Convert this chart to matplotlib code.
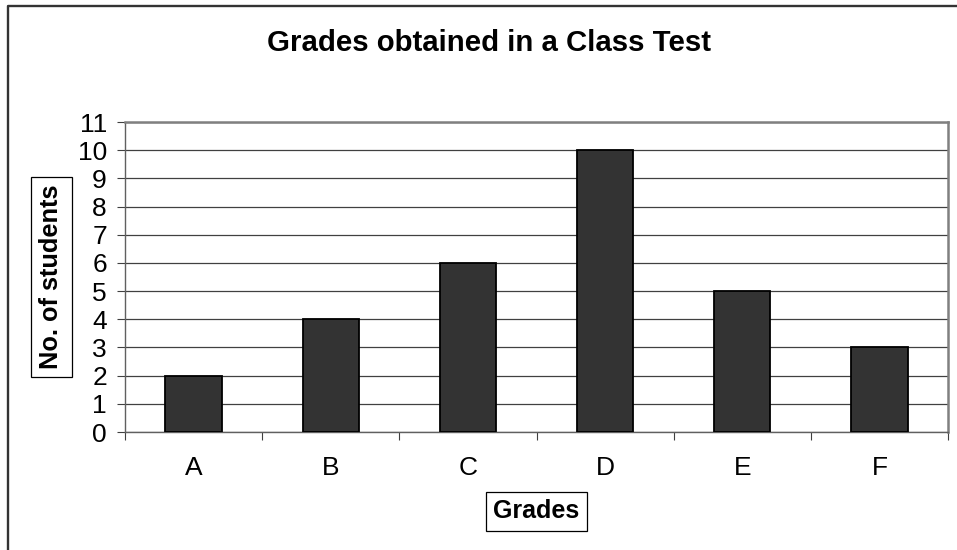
import matplotlib.pyplot as plt
from matplotlib.lines import Line2D
import numpy as np

plt.rcParams['font.family'] = ['Liberation Sans', 'DejaVu Sans']

# 成绩等级和人数
grades = ['A', 'B', 'C', 'D', 'E', 'F']
students = [2, 4, 6, 10, 5, 3]

fig = plt.figure(figsize=(9.57, 5.5), dpi=100)
ax = fig.add_axes([125 / 957, 1 - 432 / 550, 823 / 957, 310 / 550])

x = np.arange(len(grades))
ax.bar(x, students, width=0.41, color='#333333', edgecolor='black', linewidth=1.3, zorder=3)

ax.set_xlim(-0.5, len(grades) - 0.5)
ax.set_ylim(0, 11)
ax.set_yticks(range(0, 12))
ax.yaxis.grid(True, color='#404040', linewidth=0.9, zorder=0)

# 刻度线在类别边界上，标签在中间
ax.set_xticks(np.arange(-0.5, len(grades), 1.0))
ax.set_xticklabels([])
ax.set_xticks(x, minor=True)
ax.set_xticklabels(grades, minor=True, fontsize=19)
ax.tick_params(axis='x', which='major', direction='out', length=6, width=0.8, color='#404040')
ax.tick_params(axis='x', which='minor', length=0, pad=17.5)
ax.tick_params(axis='y', direction='out', length=6, width=0.8, color='#404040', labelsize=19, pad=7)

for s in ['top', 'right']:
    ax.spines[s].set_color('#808080')
    ax.spines[s].set_linewidth(1.8)
for s in ['left', 'bottom']:
    ax.spines[s].set_color('#606060')
    ax.spines[s].set_linewidth(1.0)

fig.text(489 / 957, 1 - 43 / 550, 'Grades obtained in a Class Test', ha='center', va='center',
         fontsize=21.2, fontweight='bold')
fig.text(51.5 / 957, 1 - 277 / 550, 'No. of students', rotation=90, ha='center', va='center',
         fontsize=18.3, fontweight='bold',
         bbox=dict(boxstyle='square,pad=0.32', facecolor='white', edgecolor='black', linewidth=0.9))
fig.text(536.5 / 957, 1 - 511.5 / 550, 'Grades', ha='center', va='center',
         fontsize=18, fontweight='bold',
         bbox=dict(boxstyle='square,pad=0.3', facecolor='white', edgecolor='black', linewidth=0.9))

# 外框（只露出左边和上边）
fig.add_artist(Line2D([8 / 957, 8 / 957, 1.0], [0.0, 1 - 6 / 550, 1 - 6 / 550],
                      transform=fig.transFigure, color='#333333', linewidth=1.7))

fig.savefig('out.png', dpi=100)
